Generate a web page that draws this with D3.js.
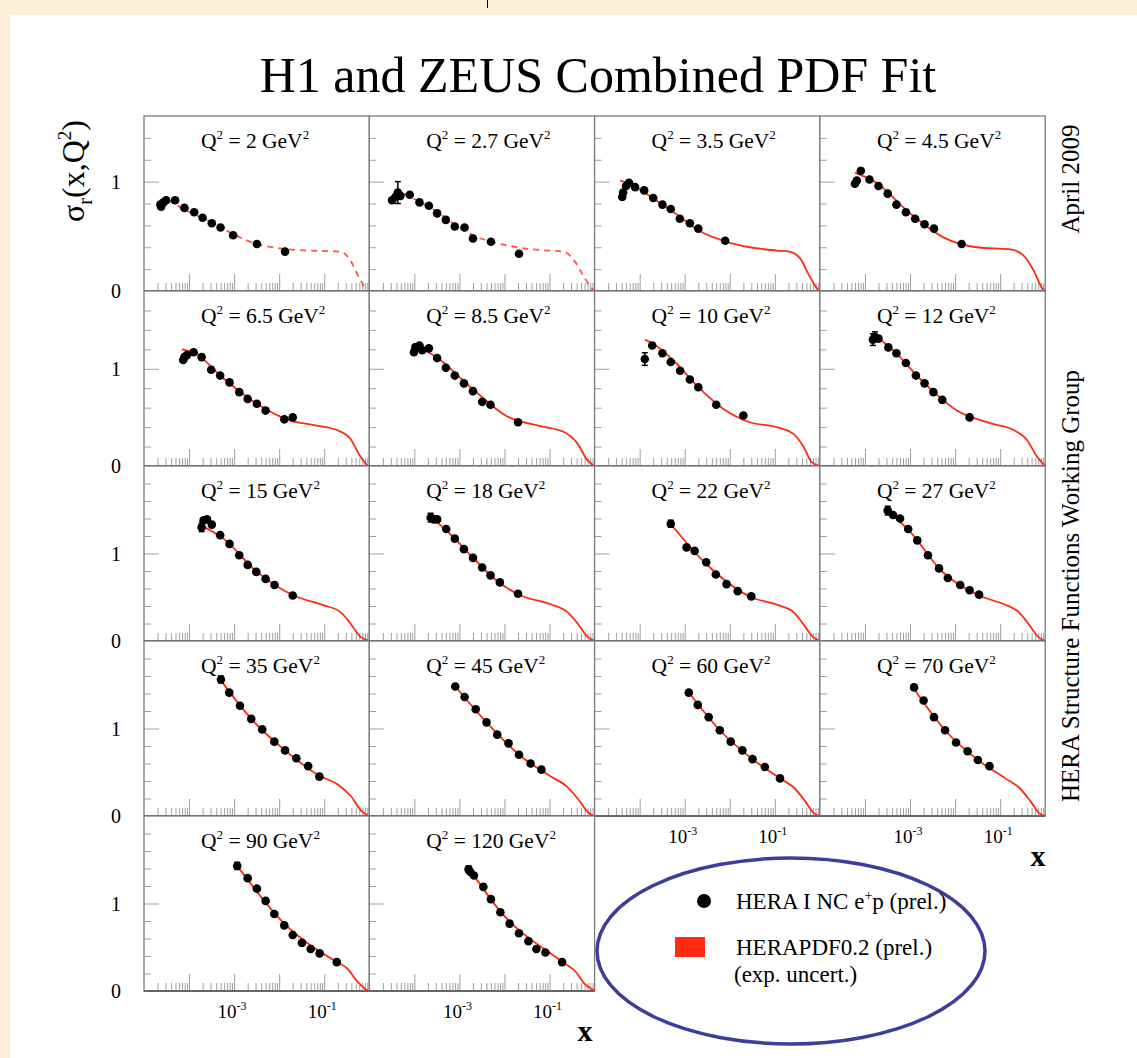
<!DOCTYPE html>
<html>
<head>
<meta charset="utf-8">
<script src="https://cdn.jsdelivr.net/npm/d3@7"></script>
<style>
  html, body { margin: 0; padding: 0; background: #fdf0d8; }
  svg { display: block; }
  text { font-family: "Liberation Serif", "Times New Roman", serif; fill: #000; white-space: pre; }
</style>
</head>
<body>
<svg id="chart" width="1137" height="1058"></svg>
<script>
// ---- measurements: [x, sigma_r, (optional) error] ----
const data_2   = [[2.3e-5,0.79],[2.4e-5,0.77],[2.7e-5,0.81],[3.1e-5,0.83],[4.9e-5,0.83],[7.9e-5,0.76],[1.3e-4,0.72],[2.0e-4,0.67],[3.2e-4,0.62],[5.0e-4,0.58],[9.5e-4,0.51],[3.2e-3,0.43],[1.35e-2,0.36]];
const data_2p7 = [[3.2e-5,0.83],[3.8e-5,0.86],[4.3e-5,0.90,0.10],[4.9e-5,0.87],[7.9e-5,0.88],[1.3e-4,0.81],[2.1e-4,0.78],[3.2e-4,0.71],[5.0e-4,0.65],[7.9e-4,0.59],[1.3e-3,0.58],[2.0e-3,0.48],[5.0e-3,0.45],[2.1e-2,0.34]];
const data_3p5 = [[4.1e-5,0.86],[4.3e-5,0.90],[5.0e-5,0.96],[5.8e-5,0.99],[7.9e-5,0.95],[1.26e-4,0.92],[2.0e-4,0.85],[3.2e-4,0.79],[4.9e-4,0.75],[7.8e-4,0.66],[1.3e-3,0.62],[2.0e-3,0.57],[7.9e-3,0.46]];
const data_4p5 = [[6.0e-5,0.98],[6.6e-5,1.01],[8.1e-5,1.10],[1.26e-4,1.02],[2.0e-4,0.96],[3.2e-4,0.89],[5.0e-4,0.79],[8.1e-4,0.72],[1.3e-3,0.66],[2.1e-3,0.61],[3.4e-3,0.57],[1.4e-2,0.43]];
const data_6p5 = [[7.4e-5,1.09],[7.9e-5,1.12],[8.9e-5,1.14],[1.26e-4,1.17],[1.9e-4,1.12],[3.1e-4,0.99],[4.9e-4,0.93],[7.9e-4,0.86],[1.3e-3,0.76],[2.0e-3,0.69],[3.2e-3,0.64],[5.0e-3,0.57],[1.3e-2,0.48],[2.0e-2,0.50]];
const data_8p5 = [[9.8e-5,1.17],[1.05e-4,1.22],[1.3e-4,1.24],[1.5e-4,1.19],[2.1e-4,1.21],[3.2e-4,1.11],[5.0e-4,1.01],[7.9e-4,0.93],[1.26e-3,0.85],[2.0e-3,0.77],[3.2e-3,0.66],[4.9e-3,0.63],[2.0e-2,0.45]];
const data_10  = [[1.3e-4,1.10,0.065],[1.9e-4,1.24],[3.2e-4,1.16],[4.9e-4,1.07],[7.9e-4,0.98],[1.3e-3,0.89],[2.0e-3,0.81],[5.0e-3,0.63],[2.0e-2,0.52]];
const data_12  = [[1.5e-4,1.30,0.06],[1.66e-4,1.33,0.05],[2.0e-4,1.31],[3.3e-4,1.22],[5.0e-4,1.16],[8.1e-4,1.06],[1.35e-3,0.93],[2.1e-3,0.85],[3.3e-3,0.76],[5.2e-3,0.68],[2.1e-2,0.50]];
const data_15  = [[1.9e-4,1.30,0.05],[2.1e-4,1.38],[2.5e-4,1.39],[3.2e-4,1.33],[4.9e-4,1.21],[7.9e-4,1.11],[1.3e-3,0.98],[2.0e-3,0.87],[3.1e-3,0.79],[5.0e-3,0.71],[7.9e-3,0.64],[2.0e-2,0.52]];
const data_18  = [[2.3e-4,1.41,0.05],[2.7e-4,1.39],[3.2e-4,1.39],[5.1e-4,1.28],[7.9e-4,1.17],[1.26e-3,1.05],[2.0e-3,0.95],[3.2e-3,0.84],[4.9e-3,0.75],[7.9e-3,0.67],[2.0e-2,0.54]];
const data_22  = [[4.9e-4,1.34,0.04],[1.1e-3,1.07],[1.66e-3,1.03],[3.0e-3,0.90],[4.9e-3,0.76],[8.5e-3,0.65],[1.5e-2,0.57],[3.0e-2,0.51]];
const data_27  = [[3.2e-4,1.49,0.05],[4.2e-4,1.44],[6.0e-4,1.40],[9.1e-4,1.28],[1.45e-3,1.15],[2.5e-3,0.98],[4.4e-3,0.83],[6.9e-3,0.72],[1.3e-2,0.64],[2.1e-2,0.58],[3.4e-2,0.53]];
const data_35  = [[5.1e-4,1.56,0.04],[7.8e-4,1.41],[1.35e-3,1.26],[2.4e-3,1.11],[4.2e-3,0.99],[7.8e-3,0.85],[1.35e-2,0.75],[2.4e-2,0.66],[4.4e-2,0.57],[7.8e-2,0.45]];
const data_45  = [[8.1e-4,1.48],[1.3e-3,1.36],[2.3e-3,1.22],[4.0e-3,1.07],[6.9e-3,0.93],[1.23e-2,0.83],[2.1e-2,0.70],[3.8e-2,0.60],[6.6e-2,0.53]];
const data_60  = [[1.23e-3,1.41],[1.95e-3,1.27],[3.4e-3,1.13],[6.0e-3,0.98],[1.05e-2,0.85],[1.9e-2,0.75],[3.2e-2,0.65],[6.0e-2,0.56],[0.13,0.43]];
const data_70  = [[1.23e-3,1.47],[2.0e-3,1.32],[3.4e-3,1.13],[6.0e-3,0.98],[1.05e-2,0.84],[1.9e-2,0.74],[3.2e-2,0.64],[5.8e-2,0.57]];
const data_90  = [[1.17e-3,1.43,0.04],[2.0e-3,1.29],[3.2e-3,1.17],[5.0e-3,1.03],[7.8e-3,0.88],[1.3e-2,0.75],[2.0e-2,0.64],[3.2e-2,0.55],[5.0e-2,0.48],[7.9e-2,0.43],[0.19,0.33]];
const data_120 = [[1.6e-3,1.39,0.04],[1.75e-3,1.36],[2.1e-3,1.32],[3.4e-3,1.19],[5.0e-3,1.05],[8.1e-3,0.90],[1.3e-2,0.77],[2.1e-2,0.66],[3.4e-2,0.57],[5.1e-2,0.48],[8.1e-2,0.44],[0.19,0.33]];

// ---- HERAPDF0.2 central fit ----
const fit_2   = [[3.4e-5,0.83],[1.05e-4,0.72],[3.5e-4,0.62],[9.5e-4,0.52],[3.2e-3,0.43],[1.05e-2,0.39],[4.2e-2,0.37],[0.23,0.36],[0.38,0.28],[0.58,0.13],[0.85,0.02],[1,0]];
const fit_2p7 = [[5.8e-5,0.89],[2.1e-4,0.77],[2.0e-3,0.51],[1.9e-2,0.40],[8.9e-2,0.37],[0.21,0.36],[0.35,0.28],[0.58,0.13],[0.88,0.02],[1,0]];
const fit_3p5 = [[3.7e-5,1.01],[6.0e-5,0.98],[2.3e-4,0.83],[7.8e-4,0.68],[2.1e-3,0.55],[8.5e-3,0.45],[2.8e-2,0.40],[0.11,0.37],[0.21,0.36],[0.36,0.30],[0.60,0.13],[0.88,0.02],[1,0]];
const fit_4p5 = [[6.0e-5,1.08],[1.8e-4,0.99],[1.0e-3,0.71],[5.5e-3,0.49],[3.0e-2,0.40],[0.17,0.38],[0.32,0.33],[0.55,0.19],[0.88,0.02],[1,0]];
const fit_6p5 = [[6.9e-5,1.20],[1.26e-4,1.17],[5.8e-4,0.90],[3.2e-3,0.64],[1.7e-2,0.47],[5.8e-2,0.42],[0.19,0.37],[0.38,0.28],[0.63,0.10],[0.9,0.01],[1,0]];
const fit_8p5 = [[9.3e-5,1.26],[3.5e-4,1.10],[2.1e-3,0.78],[1.15e-2,0.51],[6.3e-2,0.41],[0.21,0.35],[0.42,0.23],[0.69,0.06],[1,0]];
const fit_10  = [[1.3e-4,1.30],[1.8e-4,1.27],[5.5e-4,1.09],[2.1e-3,0.80],[7.1e-3,0.59],[2.8e-2,0.45],[0.11,0.40],[0.26,0.33],[0.43,0.20],[0.66,0.04],[1,0]];
const fit_12  = [[1.4e-4,1.36],[3.6e-4,1.22],[2.0e-3,0.86],[1.1e-2,0.57],[6.0e-2,0.44],[0.20,0.37],[0.39,0.27],[0.65,0.10],[1,0]];
const fit_15  = [[1.7e-4,1.33],[5.8e-4,1.17],[3.2e-3,0.79],[2.1e-2,0.52],[9.5e-2,0.41],[0.23,0.33],[0.38,0.20],[0.63,0.05],[1,0]];
const fit_18  = [[2.2e-4,1.43],[6.3e-4,1.22],[2.1e-3,0.94],[6.3e-3,0.70],[2.3e-2,0.52],[0.105,0.42],[0.25,0.33],[0.42,0.20],[0.69,0.05],[1,0]];
const fit_22  = [[4.5e-4,1.36],[3.0e-3,0.88],[3.0e-2,0.50],[0.12,0.41],[0.26,0.33],[0.42,0.20],[0.69,0.05],[1,0]];
const fit_27  = [[3.0e-4,1.50],[1.0e-3,1.25],[5.0e-3,0.80],[3.4e-2,0.52],[0.12,0.42],[0.26,0.33],[0.42,0.20],[0.69,0.05],[1,0]];
const fit_35  = [[5.1e-4,1.55],[2.4e-3,1.11],[1.35e-2,0.75],[7.8e-2,0.46],[0.2,0.36],[0.4,0.22],[0.69,0.05],[1,0]];
const fit_45  = [[8.1e-4,1.48],[4.0e-3,1.07],[2.1e-2,0.70],[0.1,0.46],[0.25,0.33],[0.45,0.18],[0.72,0.04],[1,0]];
const fit_60  = [[1.2e-3,1.42],[6.0e-3,0.98],[3.2e-2,0.65],[0.13,0.43],[0.27,0.32],[0.47,0.17],[0.74,0.03],[1,0]];
const fit_70  = [[1.2e-3,1.46],[6.0e-3,0.98],[3.2e-2,0.64],[0.13,0.43],[0.27,0.32],[0.47,0.17],[0.74,0.03],[1,0]];
const fit_90  = [[1.25e-3,1.41],[1.3e-2,0.77],[0.19,0.33],[0.32,0.26],[0.54,0.11],[0.89,0.01],[1,0]];
const fit_120 = [[1.5e-3,1.43],[8.1e-3,0.91],[0.21,0.32],[0.38,0.22],[0.58,0.09],[0.93,0.01],[1,0]];

const q2Labels = ["2","2.7","3.5","4.5","6.5","8.5","10","12","15","18","22","27","35","45","60","70","90","120"];
const dataSets = [data_2,data_2p7,data_3p5,data_4p5,data_6p5,data_8p5,data_10,data_12,data_15,data_18,data_22,data_27,data_35,data_45,data_60,data_70,data_90,data_120];
const fitSets  = [fit_2,fit_2p7,fit_3p5,fit_4p5,fit_6p5,fit_8p5,fit_10,fit_12,fit_15,fit_18,fit_22,fit_27,fit_35,fit_45,fit_60,fit_70,fit_90,fit_120];
const extrapolated = ["2","2.7"];          // below the Q^2 cut: fit drawn dashed
const rowMax = [1.6, 1.8, 2, 2, 2];          // y range of each row
const yLabelValues = [0, 1];
const xLabelDecades = [-3, -1];
const xLabelledPanels = [14, 15, 16, 17];   // panels carrying x tick labels

// ---- layout ----
const svg = d3.select("#chart");
const W = 1137, H = 1058;
const gridLeft = 144, gridTop = 116, panelW = 225.3, panelH = 175;
const redCol = "#ff2a14";

svg.append("rect").attr("x", 0).attr("y", 0).attr("width", W).attr("height", H).attr("fill", "#fdf0d8");
svg.append("rect").attr("x", 10).attr("y", 15).attr("width", W - 10).attr("height", H - 15).attr("fill", "#fff");
svg.append("line").attr("x1", 487.5).attr("x2", 487.5).attr("y1", 0).attr("y2", 8).attr("stroke", "#000");

svg.append("text").attr("x", 598).attr("y", 92).attr("text-anchor", "middle")
  .attr("font-size", 50).text("H1 and ZEUS Combined PDF Fit");

const x = d3.scaleLog().domain([1e-5, 1]).range([0, panelW]);
const line = d3.line().curve(d3.curveMonotoneX);

q2Labels.forEach((q, i) => {
  const col = i % 4, row = Math.floor(i / 4);
  const y = d3.scaleLinear().domain([0, rowMax[row]]).range([panelH, 0]);
  const g = svg.append("g").attr("transform", `translate(${gridLeft + col * panelW},${gridTop + row * panelH})`);

  g.append("rect").attr("width", panelW).attr("height", panelH).attr("fill", "#fff");

  // y ticks (inward)
  const yMinor = d3.range(0.2, rowMax[row] - 0.01, 0.2).filter(v => Math.abs(v - 1) > 0.01);
  const ya = g.append("g").call(d3.axisLeft(y).tickValues(yMinor).tickSize(-7).tickFormat(""));
  const yb = g.append("g").call(d3.axisLeft(y).tickValues([1]).tickSize(-15).tickFormat(""));
  // x ticks (inward)
  const allX = x.ticks().filter(v => v < 0.999);
  const majorX = allX.filter(v => Math.abs(Math.log10(v) - Math.round(Math.log10(v))) < 1e-6 && v > 1.01e-5);
  const minorX = allX.filter(v => !majorX.includes(v) && v > 1.01e-5);
  const xa = g.append("g").attr("transform", `translate(0,${panelH})`)
    .call(d3.axisBottom(x).tickValues(minorX).tickSize(-8).tickFormat(""));
  const xb = g.append("g").attr("transform", `translate(0,${panelH})`)
    .call(d3.axisBottom(x).tickValues(majorX).tickSize(-17).tickFormat(""));
  [ya, yb, xa, xb].forEach(a => {
    a.select(".domain").remove();
    a.selectAll("line").attr("stroke", "#a0a0a0").attr("stroke-width", 1);
  });

  // frame
  g.append("rect").attr("width", panelW).attr("height", panelH)
    .attr("fill", "none").attr("stroke", "#7a7a7a").attr("stroke-width", 1.3);
  g.append("line").attr("x1", 0).attr("x2", panelW).attr("y1", panelH).attr("y2", panelH)
    .attr("stroke", "#666").attr("stroke-width", 2);

  // fit curve
  const dashed = extrapolated.includes(q);
  g.append("path")
    .attr("d", line(fitSets[i].map(d => [x(d[0]), y(d[1])])))
    .attr("fill", "none").attr("stroke", redCol).attr("stroke-width", 1.8)
    .attr("stroke-dasharray", dashed ? "6,5" : null)
    .attr("opacity", dashed ? 0.8 : 1);

  // data with error bars
  const pts = dataSets[i];
  pts.filter(d => d[2]).forEach(d => {
    const cx = x(d[0]), y0 = y(d[1] - d[2]), y1 = y(d[1] + d[2]);
    g.append("line").attr("x1", cx).attr("x2", cx).attr("y1", y0).attr("y2", y1).attr("stroke", "#000").attr("stroke-width", 1.5);
    [y0, y1].forEach(yy => g.append("line").attr("x1", cx - 3).attr("x2", cx + 3).attr("y1", yy).attr("y2", yy).attr("stroke", "#000").attr("stroke-width", 1.5));
  });
  g.selectAll("circle.pt").data(pts).join("circle").attr("class", "pt")
    .attr("cx", d => x(d[0])).attr("cy", d => y(d[1])).attr("r", 4.3).attr("fill", "#000");

  // Q^2 label
  const t = g.append("text").attr("x", 57).attr("y", 32).attr("font-size", 21.5);
  t.append("tspan").text("Q");
  t.append("tspan").attr("dy", -9).attr("font-size", 13).text("2");
  t.append("tspan").attr("dy", 9).text(" = " + q + " GeV");
  t.append("tspan").attr("dy", -9).attr("font-size", 13).text("2");

  // y labels on first column
  if (col === 0) {
    yLabelValues.forEach(v => {
      g.append("text").attr("x", -23).attr("y", y(v) + 7).attr("text-anchor", "end")
        .attr("font-size", 20).text(String(v));
    });
  }
  // x labels on bottom panels
  if (xLabelledPanels.includes(i)) {
    xLabelDecades.forEach(dec => {
      const tx = g.append("text").attr("x", x(Math.pow(10, dec)) - 2).attr("y", panelH + 27)
        .attr("text-anchor", "middle").attr("font-size", 19);
      tx.append("tspan").text("10");
      tx.append("tspan").attr("dy", -8).attr("font-size", 12).text("-" + Math.abs(dec));
    });
  }
});

// axis titles
svg.append("text").attr("x", 585).attr("y", 1041).attr("text-anchor", "middle")
  .attr("font-size", 30).attr("font-weight", "bold").text("x");
svg.append("text").attr("x", 1038).attr("y", 866).attr("text-anchor", "middle")
  .attr("font-size", 30).attr("font-weight", "bold").text("x");

const yt = svg.append("text").attr("transform", "translate(84,171) rotate(-90)")
  .attr("text-anchor", "middle").attr("font-size", 32);
yt.append("tspan").text("σ");
yt.append("tspan").attr("dy", 8).attr("font-size", 20).text("r");
yt.append("tspan").attr("dy", -8).text("(x,Q");
yt.append("tspan").attr("dy", -13).attr("font-size", 19).text("2");
yt.append("tspan").attr("dy", 13).text(")");

svg.append("text").attr("transform", "translate(1079,179) rotate(-90)")
  .attr("text-anchor", "middle").attr("font-size", 25).text("April 2009");
svg.append("text").attr("transform", "translate(1079,586) rotate(-90)")
  .attr("text-anchor", "middle").attr("font-size", 25).text("HERA Structure Functions Working Group");

// legend
svg.append("ellipse").attr("cx", 791).attr("cy", 951).attr("rx", 194).attr("ry", 93)
  .attr("fill", "none").attr("stroke", "#3d3d9d").attr("stroke-width", 3.5);
svg.append("circle").attr("cx", 704).attr("cy", 901).attr("r", 7).attr("fill", "#000");
const l1 = svg.append("text").attr("x", 736).attr("y", 909).attr("font-size", 23);
l1.append("tspan").text("HERA I NC e");
l1.append("tspan").attr("dy", -9).attr("font-size", 14).text("+");
l1.append("tspan").attr("dy", 9).text("p (prel.)");
svg.append("rect").attr("x", 675).attr("y", 937).attr("width", 30).attr("height", 20).attr("fill", redCol);
svg.append("text").attr("x", 736).attr("y", 955).attr("font-size", 23).text("HERAPDF0.2 (prel.)");
svg.append("text").attr("x", 734).attr("y", 982).attr("font-size", 23).text("(exp. uncert.)");
</script>
</body>
</html>
